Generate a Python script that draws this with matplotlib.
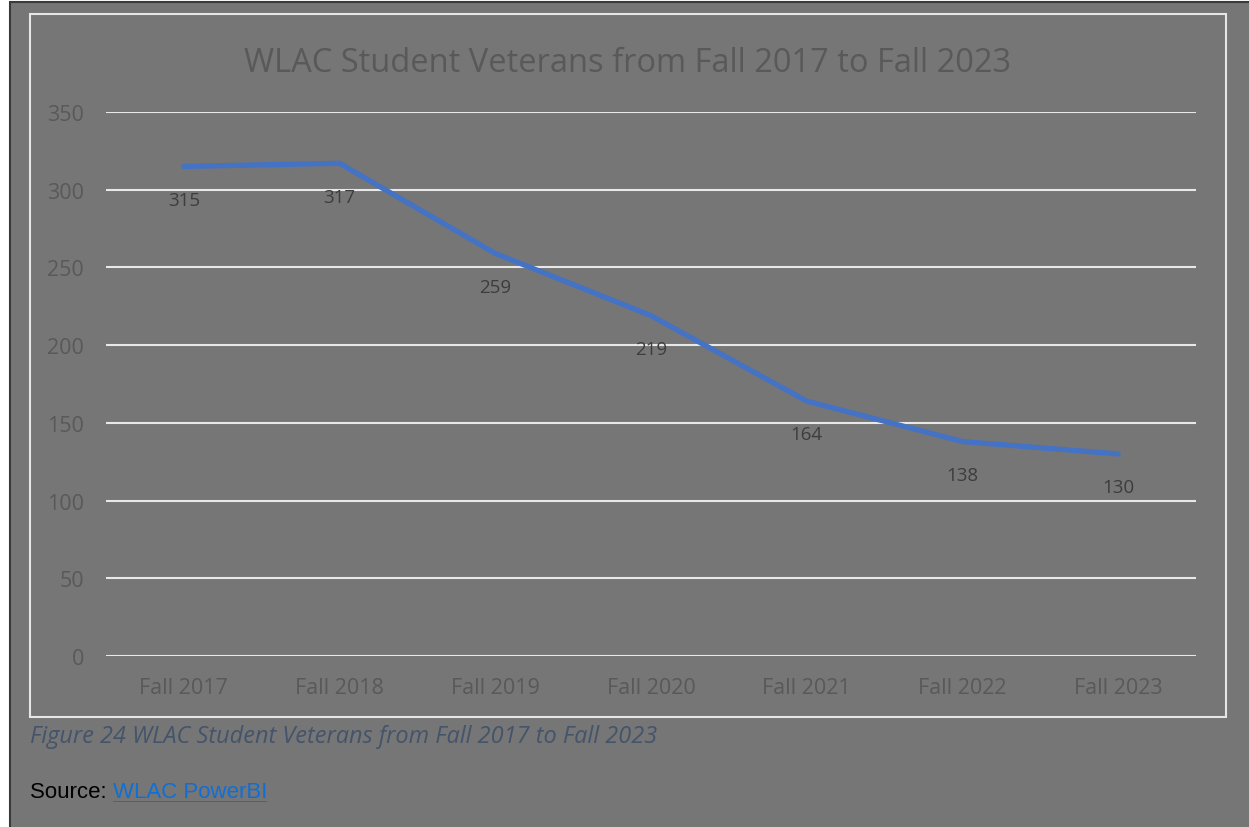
import matplotlib
matplotlib.use("Agg")
import matplotlib.pyplot as plt
from matplotlib.patches import Rectangle

# Data
terms = ["Fall 2017", "Fall 2018", "Fall 2019", "Fall 2020", "Fall 2021", "Fall 2022", "Fall 2023"]
veterans = [315, 317, 259, 219, 164, 138, 130]
y_ticks = [0, 50, 100, 150, 200, 250, 300, 350]

BG = "#767676"
TEXT = "#595959"
W, H = 1249, 828

plt.rcParams["font.family"] = ["Open Sans", "DejaVu Sans"]

fig = plt.figure(figsize=(W / 100, H / 100), dpi=100)
fig.patch.set_facecolor("white")

# outer grey page with dark border
fig.patches.append(Rectangle((10 / W, -0.01), 1.0, 1 - 3 / H + 0.01,
                             transform=fig.transFigure, facecolor=BG,
                             edgecolor="#3a3a3a", linewidth=1.5, zorder=-5))
# white chart frame
fig.patches.append(Rectangle((30 / W, 1 - 718 / H), (1226 - 30) / W, (718 - 15) / H,
                             transform=fig.transFigure, facecolor="none",
                             edgecolor="#e6e6e6", linewidth=1.5, zorder=-4))

ax = fig.add_axes([106 / W, 1 - 657 / H, (1196 - 106) / W, (657 - 113) / H])
ax.set_facecolor("none")

x = list(range(len(terms)))
ax.plot(x, veterans, color="#4472c4", linewidth=3.8, solid_capstyle="round",
        solid_joinstyle="round", zorder=3)
for xi, v in zip(x, veterans):
    ax.annotate(str(v), (xi, v), xytext=(0, -24), textcoords="offset points",
                ha="center", va="center", fontsize=13.5, color="#3d3d3d")

ax.set_xlim(-0.5, len(terms) - 0.5)
ax.set_ylim(0, 350)
ax.set_yticks(y_ticks)
ax.set_xticks(x)
ax.set_xticklabels(terms)
ax.yaxis.grid(True, color="#e8e8e8", linewidth=1.5)
ax.set_axisbelow(True)
for s in ax.spines.values():
    s.set_visible(False)
ax.tick_params(axis="both", length=0, labelcolor=TEXT, labelsize=15.5)
ax.tick_params(axis="y", pad=16)
ax.tick_params(axis="x", pad=15)

fig.text(627 / W, 1 - 63 / H, "WLAC Student Veterans from Fall 2017 to Fall 2023",
         ha="center", va="center", fontsize=23.5, color=TEXT)

fig.text(30 / W, 1 - 737 / H, "Figure 24 WLAC Student Veterans from Fall 2017 to Fall 2023",
         ha="left", va="center", fontsize=16.9, style="italic", color="#44546a")
src = fig.text(30 / W, 1 - 793 / H, "Source: ", ha="left", va="center",
               fontsize=16, color="black", family=["Liberation Sans", "DejaVu Sans"])
fig.canvas.draw()
bb = src.get_window_extent()
link = fig.text(bb.x1 / W, 1 - 793 / H, "WLAC PowerBI", ha="left", va="center",
                fontsize=16, color="#0f6fd6", family=["Liberation Sans", "DejaVu Sans"])
fig.canvas.draw()
lb = link.get_window_extent()
fig.patches.append(Rectangle((lb.x0 / W, 1 - 803 / H), (lb.x1 - lb.x0) / W, 1.5 / H,
                             transform=fig.transFigure, facecolor="#0f6fd6",
                             edgecolor="none", zorder=2))

fig.savefig("out.png", dpi=100, facecolor=fig.get_facecolor())
